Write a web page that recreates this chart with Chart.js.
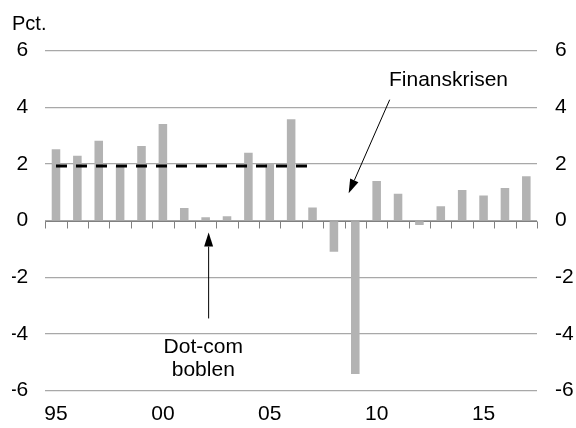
<!DOCTYPE html>
<html lang="da">
<head>
  <meta charset="UTF-8">
  <title>Pct.</title>
  <script src="https://cdn.jsdelivr.net/npm/chart.js"></script>
  <style>
    html, body { margin: 0; padding: 0; background: #fff; }
    #wrap { width: 576px; height: 428px; }
  </style>
</head>
<body>
  <div id="wrap"><canvas id="chart"></canvas></div>
  <script>
    const years = ['1995', '1996', '1997', '1998', '1999', '2000', '2001', '2002', '2003', '2004', '2005', '2006',
                   '2007', '2008', '2009', '2010', '2011', '2012', '2013', '2014', '2015', '2016', '2017'];
    const growth = [2.52, 2.29, 2.82, 1.93, 2.64, 3.41, 0.45, 0.12, 0.16, 2.40, 2.02, 3.58,
                    0.47, -1.10, -5.41, 1.40, 0.95, -0.15, 0.51, 1.08, 0.89, 1.15, 1.57];
    // average 1995-2007 (dashed line)
    const avg9507 = [1.93, 1.93, 1.93, 1.93, 1.93, 1.93, 1.93, 1.93, 1.93, 1.93, 1.93, 1.93,
                     1.93, null, null, null, null, null, null, null, null, null, null];
    const yTicks = [-6, -4, -2, 0, 2, 4, 6];

    const FONT = '"Liberation Sans", Arial, sans-serif';

    // text + arrows, placed in data coordinates (x = category index, y = value)
    const notes = [
      { lines: ['Finanskrisen'], x: 18.36, y: [4.97], from: [15.61, 4.27], to: [13.69, 0.97] },
      { lines: ['Dot-com', 'boblen'], x: 6.89, y: [-4.48, -5.28], from: [7.14, -3.45], to: [7.14, -0.42] }
    ];

    // zero line with small ticks between the years, plus the notes
    const notePlugin = {
      id: 'notes',
      beforeDatasetsDraw(chart) {
        const ctx = chart.ctx;
        const xs = chart.scales.x, ys = chart.scales.y;
        const y0 = Math.round(ys.getPixelForValue(0)) + 0.5;
        ctx.save();
        ctx.strokeStyle = '#808080';
        ctx.lineWidth = 1;
        ctx.beginPath();
        ctx.moveTo(xs.left, y0);
        ctx.lineTo(xs.right, y0);
        for (let i = 0; i <= years.length; i++) {
          const px = Math.round(xs.getPixelForValue(i - 0.5)) + 0.5;
          ctx.moveTo(px, y0);
          ctx.lineTo(px, y0 + 7);
        }
        ctx.stroke();
        ctx.restore();
      },
      afterDatasetsDraw(chart) {
        const ctx = chart.ctx;
        const xs = chart.scales.x, ys = chart.scales.y;
        ctx.save();
        ctx.fillStyle = '#000';
        ctx.strokeStyle = '#000';
        ctx.font = '21px ' + FONT;
        ctx.textAlign = 'center';
        ctx.textBaseline = 'middle';
        notes.forEach(n => {
          n.lines.forEach((t, i) => {
            ctx.fillText(t, xs.getPixelForValue(n.x), ys.getPixelForValue(n.y[i]));
          });
          const x1 = xs.getPixelForValue(n.from[0]), y1 = ys.getPixelForValue(n.from[1]);
          const x2 = xs.getPixelForValue(n.to[0]), y2 = ys.getPixelForValue(n.to[1]);
          const a = Math.atan2(y2 - y1, x2 - x1);
          const len = 14, half = 4.5;
          const bx = x2 - len * Math.cos(a), by = y2 - len * Math.sin(a);
          ctx.lineWidth = 1;
          ctx.beginPath();
          ctx.moveTo(x1, y1);
          ctx.lineTo(bx, by);
          ctx.stroke();
          ctx.beginPath();
          ctx.moveTo(x2, y2);
          ctx.lineTo(bx + half * Math.sin(a), by - half * Math.cos(a));
          ctx.lineTo(bx - half * Math.sin(a), by + half * Math.cos(a));
          ctx.closePath();
          ctx.fill();
        });
        ctx.restore();
      }
    };

    const yTickOpts = {
      stepSize: 2,
      color: '#000',
      font: { family: FONT, size: 21 },
      padding: 17,
      callback: v => yTicks.includes(v) ? String(v) : ''
    };

    new Chart(document.getElementById('chart'), {
      type: 'bar',
      data: {
        labels: years,
        datasets: [
          {
            type: 'line',
            data: avg9507,
            borderColor: '#000',
            borderWidth: 3,
            borderDash: [11, 9],
            pointRadius: 0,
            fill: false,
            spanGaps: false,
            order: 0
          },
          {
            data: growth,
            backgroundColor: '#b3b3b3',
            barPercentage: 0.4,
            categoryPercentage: 1,
            order: 1
          }
        ]
      },
      options: {
        responsive: true,
        maintainAspectRatio: false,
        animation: false,
        layout: { padding: { left: 12, right: 2, top: 0, bottom: 0 } },
        plugins: {
          legend: { display: false },
          tooltip: { enabled: false },
          title: {
            display: true,
            text: 'Pct.',
            align: 'start',
            color: '#000',
            font: { family: FONT, size: 20, weight: 'normal' },
            padding: { top: 12, bottom: 14.7 }
          }
        },
        scales: {
          x: {
            type: 'category',
            position: 'bottom',
            offset: true,
            grid: { display: false, drawTicks: false },
            border: { display: false },
            ticks: {
              autoSkip: false,
              maxRotation: 0,
              color: '#000',
              padding: 13,
              font: { family: FONT, size: 21, lineHeight: 1 },
              callback: (v, i) => i % 5 === 0 ? years[i].slice(2) : ''
            },
            afterFit: s => { s.height = 37.3; }
          },
          y: {
            position: 'left',
            min: -6,
            max: 6,
            grid: { color: '#a8a8a8', lineWidth: 1.3, drawTicks: false },
            border: { display: false },
            ticks: yTickOpts,
            afterFit: s => { s.width = 33.3; }
          },
          y2: {
            position: 'right',
            min: -6,
            max: 6,
            grid: { display: false, drawTicks: false },
            border: { display: false },
            ticks: Object.assign({}, yTickOpts, { padding: 18 }),
            afterFit: s => { s.width = 37; }
          }
        }
      },
      plugins: [notePlugin]
    });
  </script>
</body>
</html>
